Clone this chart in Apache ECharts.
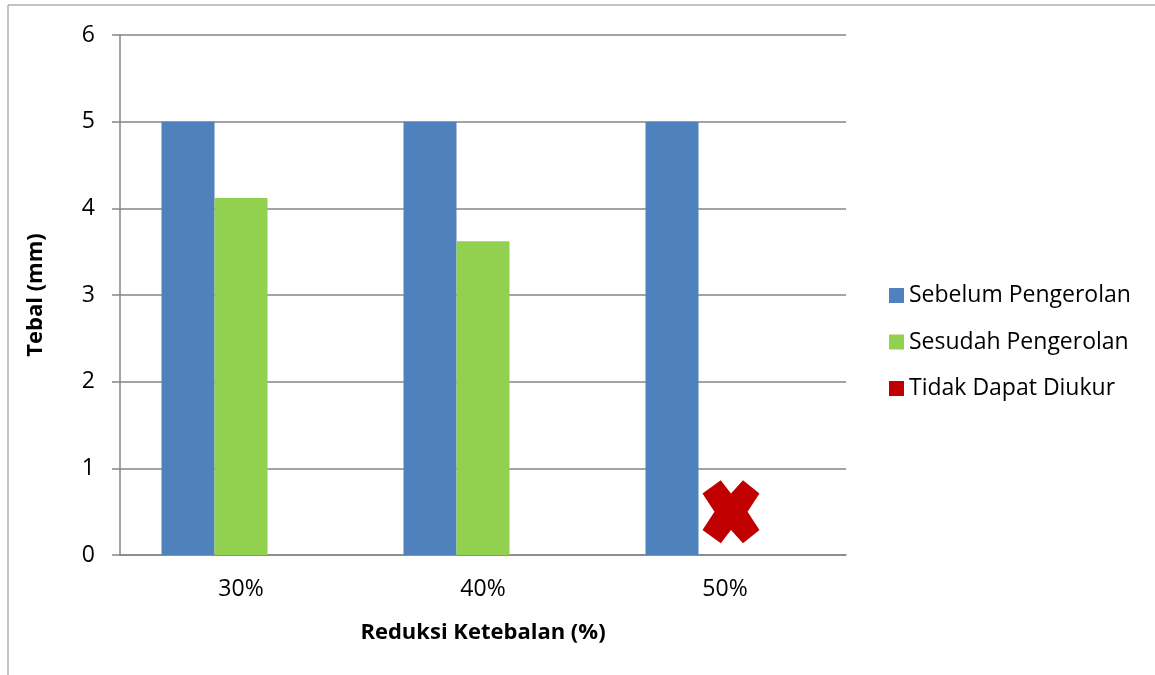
<!DOCTYPE html>
<html>
<head>
<meta charset="utf-8">
<script src="https://cdn.jsdelivr.net/npm/echarts@6/dist/echarts.min.js"></script>
<style>
  html, body { margin: 0; padding: 0; background: #fff; }
  #chart { width: 1155px; height: 675px; }
</style>
</head>
<body>
<div id="chart"></div>
<script>
// Thickness before/after rolling, per thickness reduction
const categories = ['30%', '40%', '50%'];
const sebelum = [5, 5, 5];
const sesudah = [4.12, 3.62, null];
// 50% reduction: thickness could not be measured (marked with a cross)
const tidakDapat = [null, null, 0.5];
const yTicks = [0, 1, 2, 3, 4, 5, 6];

const FONT = '"Open Sans", "Noto Sans", sans-serif';
const crossPath = 'path://M0,21 L32,0 L50,21 L71,0 L100,21 L79,50 L100,79 L71,100 L50,79 L32,100 L0,79 L21,50 Z';

const chart = echarts.init(document.getElementById('chart'));
chart.setOption({
  animation: false,
  textStyle: { fontFamily: FONT },
  graphic: [{
    type: 'rect',
    shape: { x: 8, y: 5, width: 1300, height: 800 },
    style: { fill: 'none', stroke: '#8a8a8a', lineWidth: 1 },
    z: -10
  }],
  grid: { left: 120, right: 309, top: 35, bottom: 120 },
  legend: {
    orient: 'vertical',
    left: 889,
    top: 284,
    padding: 0,
    itemWidth: 15,
    itemHeight: 15,
    itemGap: 23.5,
    icon: 'rect',
    textStyle: { fontSize: 23, color: '#000', fontFamily: FONT },
    data: ['Sebelum Pengerolan', 'Sesudah Pengerolan', 'Tidak Dapat Diukur']
  },
  xAxis: {
    type: 'category',
    data: categories,
    name: 'Reduksi Ketebalan (%)',
    nameLocation: 'middle',
    nameGap: 67,
    nameTextStyle: { fontSize: 22, fontWeight: 'bold', color: '#000' },
    axisLine: { lineStyle: { color: '#868686', width: 1.5 } },
    axisTick: { show: false },
    axisLabel: { fontSize: 23, color: '#000', margin: 23 }
  },
  yAxis: {
    type: 'value',
    min: yTicks[0],
    max: yTicks[yTicks.length - 1],
    interval: 1,
    name: 'Tebal (mm)',
    nameLocation: 'middle',
    nameGap: 73,
    nameTextStyle: { fontSize: 22, fontWeight: 'bold', color: '#000' },
    axisLine: { show: true, lineStyle: { color: '#868686', width: 1.5 } },
    axisTick: { show: true, length: 8, lineStyle: { color: '#868686', width: 1.5 } },
    axisLabel: { fontSize: 23, color: '#000', margin: 25 },
    splitLine: { lineStyle: { color: '#868686', width: 1.5 } }
  },
  series: [
    {
      name: 'Sebelum Pengerolan',
      type: 'bar',
      data: sebelum,
      barWidth: 53,
      barGap: '0%',
      itemStyle: { color: '#4F81BD' }
    },
    {
      name: 'Sesudah Pengerolan',
      type: 'bar',
      data: sesudah,
      barWidth: 53,
      barGap: '0%',
      itemStyle: { color: '#92D050' }
    },
    {
      name: 'Tidak Dapat Diukur',
      type: 'bar',
      data: [null, null, null],
      barWidth: 53,
      barGap: '0%',
      itemStyle: { color: '#C00000' }
    },
    {
      name: 'Tidak Dapat Diukur',
      type: 'scatter',
      data: tidakDapat,
      symbol: crossPath,
      symbolSize: [57, 63],
      symbolOffset: [6, 0],
      itemStyle: { color: '#C00000', opacity: 1 },
      z: 5
    }
  ]
});
</script>
</body>
</html>
